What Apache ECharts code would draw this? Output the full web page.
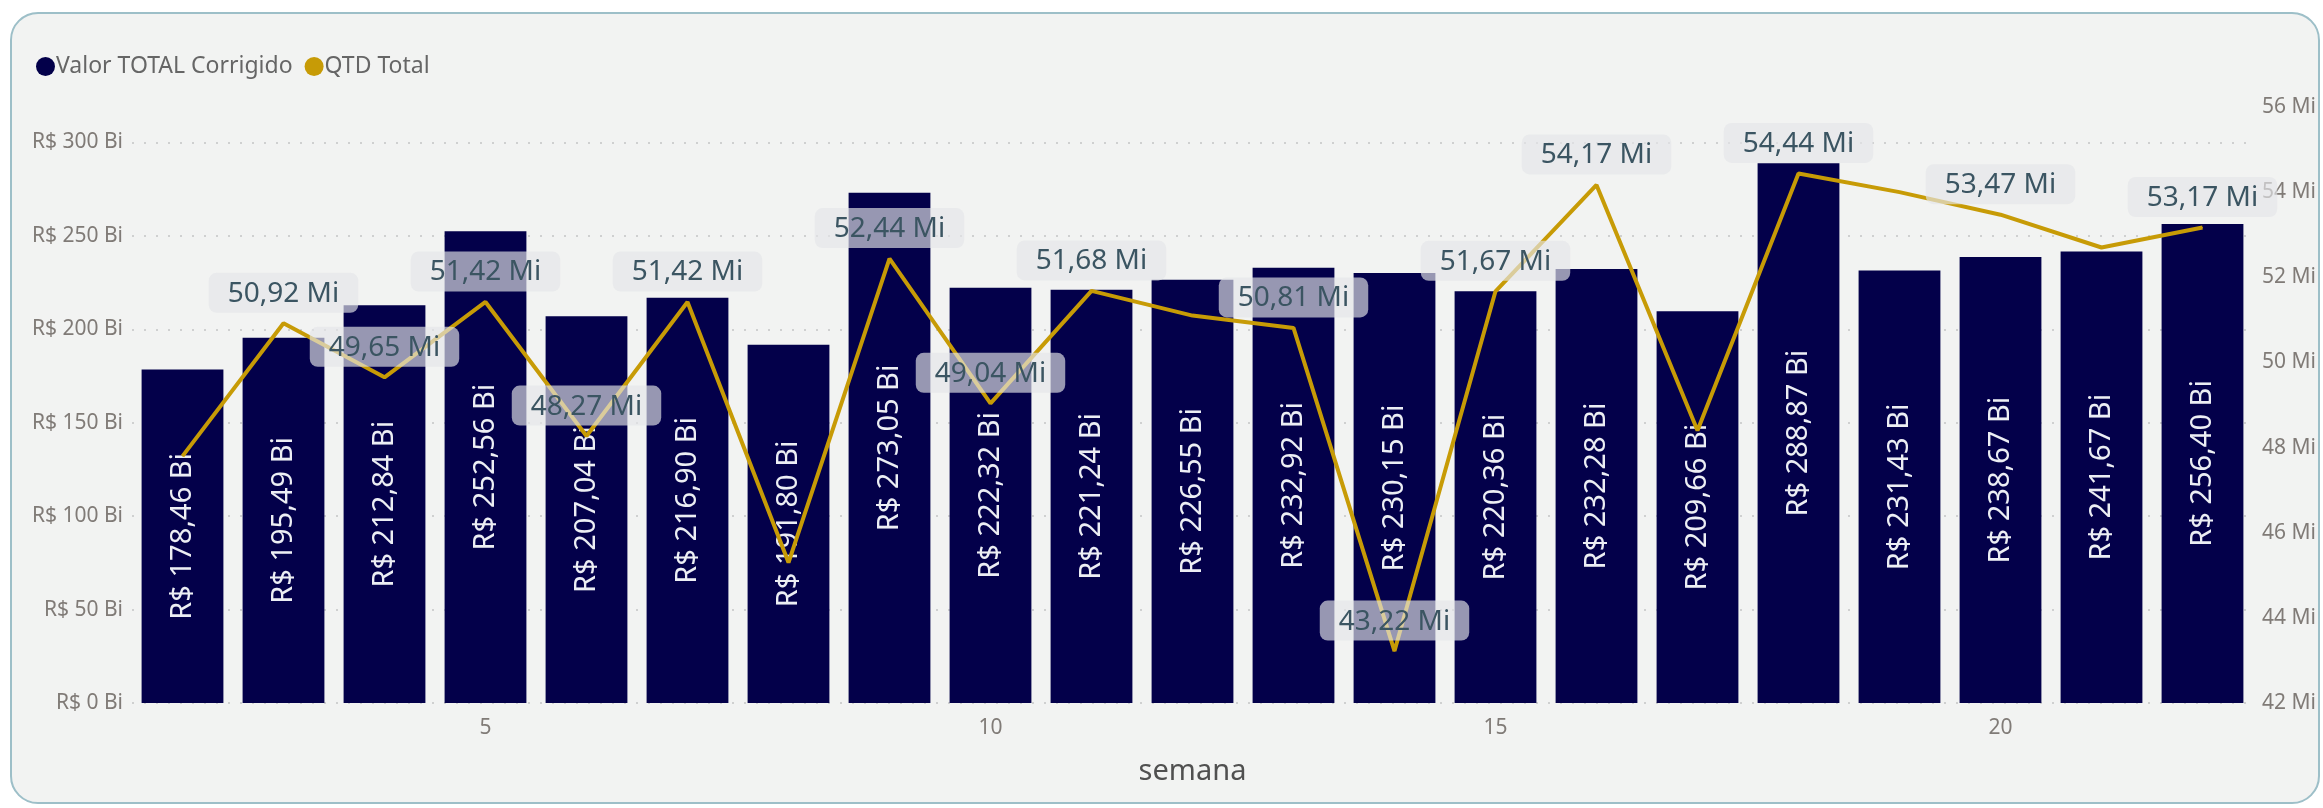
<!DOCTYPE html>
<html>
<head>
<meta charset="utf-8">
<script src="https://cdn.jsdelivr.net/npm/echarts@6/dist/echarts.min.js"></script>
<style>
  html, body { margin: 0; padding: 0; background: #ffffff; }
  #frame {
    position: absolute; left: 10px; top: 12px; width: 2306px; height: 788px;
    border: 2px solid #9dbfc8; border-radius: 28px; background: #f2f3f2;
  }
  #chart { position: absolute; left: 0; top: 0; width: 2323px; height: 808px; }
</style>
</head>
<body>
<div id="frame"></div>
<div id="chart"></div>
<script>
// semanas 2..22
var weeks = [2, 3, 4, 5, 6, 7, 8, 9, 10, 11, 12, 13, 14, 15, 16, 17, 18, 19, 20, 21, 22];
// Valor TOTAL Corrigido (R$ bilhões)
var valorTotal = [178.46, 195.49, 212.84, 252.56, 207.04, 216.90, 191.80, 273.05, 222.32, 221.24,
  226.55, 232.92, 230.15, 220.36, 232.28, 209.66, 288.87, 231.43, 238.67, 241.67, 256.40];
// QTD Total (milhões)
var qtdTotal = [47.8, 50.92, 49.65, 51.42, 48.27, 51.42, 45.3, 52.44, 49.04, 51.68,
  51.1, 50.81, 43.22, 51.67, 54.17, 48.4, 54.44, 54.0, 53.47, 52.7, 53.17];
// semanas com rótulo visível na linha
var labeledWeeks = [3, 4, 5, 6, 7, 9, 10, 11, 13, 14, 15, 16, 18, 20, 22];
var xTicks = [5, 10, 15, 20];

var FONT = 'Noto Sans';
var fmtBR = function (v) { return v.toFixed(2).replace('.', ','); };

var lineData = qtdTotal.map(function (v, i) {
  return {
    value: v,
    label: { show: labeledWeeks.indexOf(weeks[i]) >= 0 }
  };
});

var chart = echarts.init(document.getElementById('chart'));
chart.setOption({
  animation: false,
  textStyle: { fontFamily: FONT },
  legend: {
    left: 31, top: 50,
    icon: 'circle',
    itemWidth: 19, itemHeight: 19, itemGap: 12,
    textStyle: { fontFamily: FONT, fontSize: 23, color: '#666666', padding: [0, 0, 0, -4] },
    data: ['Valor TOTAL Corrigido', 'QTD Total']
  },
  grid: { left: 132, right: 70, top: 107, bottom: 105 },
  xAxis: {
    type: 'category',
    data: weeks,
    name: 'semana',
    nameLocation: 'middle',
    nameGap: 54,
    nameTextStyle: { fontFamily: FONT, fontSize: 29, color: '#505050' },
    axisLine: { show: false },
    axisTick: { show: false },
    axisLabel: {
      interval: function (idx, val) { return xTicks.indexOf(Number(val)) >= 0; },
      margin: 15,
      fontSize: 21,
      color: '#807b77'
    }
  },
  yAxis: [
    {
      type: 'value',
      min: 0, max: 319, interval: 50,
      axisLabel: {
        margin: 9, fontSize: 21, color: '#807b77',
        formatter: function (v) { return v % 50 === 0 ? 'R$ ' + v + ' Bi' : ''; }
      },
      splitLine: {
        showMaxLine: false,
        lineStyle: { color: '#cfd0d0', width: 2, type: [2, 10] }
      }
    },
    {
      type: 'value',
      min: 42, max: 56, interval: 2,
      axisLabel: {
        margin: 9, fontSize: 21, color: '#807b77',
        formatter: function (v) { return v + ' Mi'; }
      },
      splitLine: { show: false }
    }
  ],
  series: [
    {
      name: 'Valor TOTAL Corrigido',
      type: 'bar',
      yAxisIndex: 0,
      barCategoryGap: '19%',
      itemStyle: { color: '#03004a' },
      label: {
        show: true,
        position: 'inside',
        rotate: 90,
        fontFamily: FONT,
        fontSize: 29,
        color: '#eceef4',
        formatter: function (p) { return 'R$ ' + fmtBR(p.value) + ' Bi'; }
      },
      data: valorTotal
    },
    {
      name: 'QTD Total',
      type: 'line',
      yAxisIndex: 1,
      symbol: 'circle',
      symbolSize: 1,
      showSymbol: true,
      z: 5,
      lineStyle: { color: '#c79b06', width: 4 },
      itemStyle: { color: '#c79b06' },
      label: {
        show: true,
        position: 'top',
        distance: 10,
        fontFamily: FONT,
        fontSize: 28,
        color: '#3b5562',
        backgroundColor: 'rgba(228,229,232,0.66)',
        borderRadius: 8,
        padding: [7, 19, 5, 19],
        formatter: function (p) { return fmtBR(p.value) + ' Mi'; }
      },
      labelLayout: { hideOverlap: false },
      data: lineData
    }
  ]
});
</script>
</body>
</html>
